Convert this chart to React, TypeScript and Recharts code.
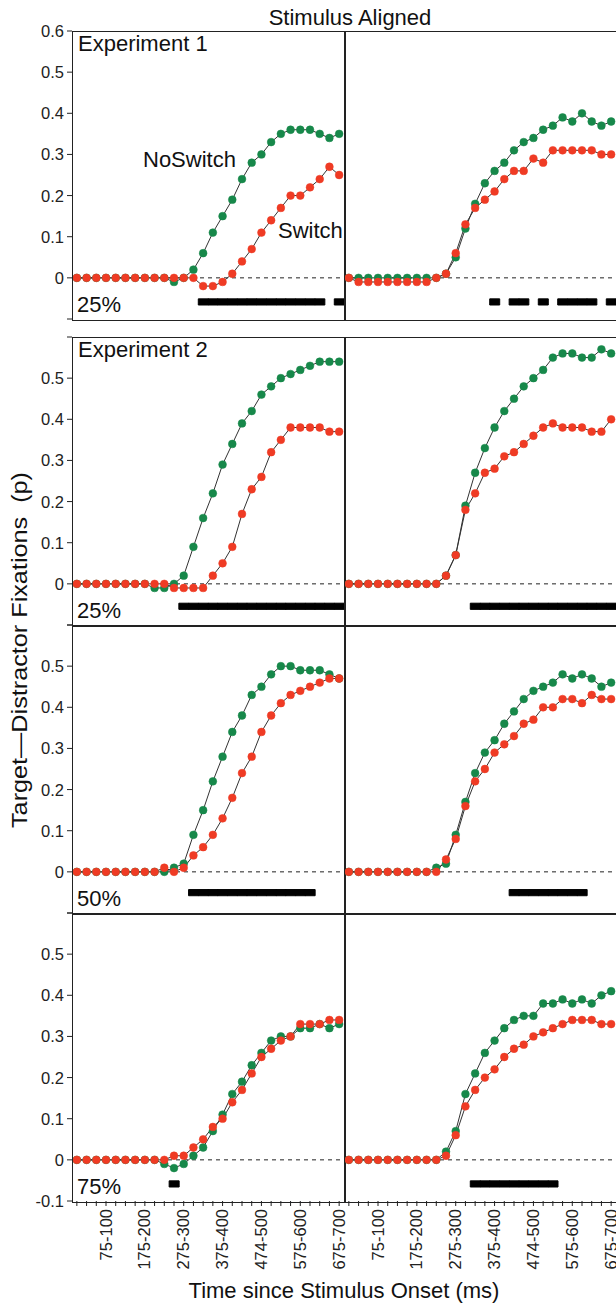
import { ComposedChart, Line, Bar, XAxis, YAxis, ReferenceLine } from "recharts";

// 25 ms time bins since stimulus onset
const BINS = [
  "0-25", "25-50", "50-75", "75-100", "100-125", "125-150", "150-175", "175-200",
  "200-225", "225-250", "250-275", "275-300", "300-325", "325-350", "350-375", "375-400",
  "400-425", "425-450", "450-475", "474-500", "500-525", "525-550", "550-575", "575-600",
  "600-625", "625-650", "650-675", "675-700",
];
const X_TICK_LABELS = ["75-100", "175-200", "275-300", "375-400", "474-500", "575-600", "675-700"];
const Y_TICKS = [-0.1, 0, 0.1, 0.2, 0.3, 0.4, 0.5, 0.6];
const Y_LABELS_TOP = [0, 0.1, 0.2, 0.3, 0.4, 0.5, 0.6];
const Y_LABELS_MID = [0, 0.1, 0.2, 0.3, 0.4, 0.5];
const Y_LABELS_BOTTOM = [-0.1, 0, 0.1, 0.2, 0.3, 0.4, 0.5];

// Experiment 1, 25%
const E1_25_L_NOSWITCH = [0, 0, 0, 0, 0, 0, 0, 0, 0, 0, -0.01, 0, 0.02, 0.06, 0.11, 0.15, 0.19, 0.24, 0.28, 0.3, 0.33, 0.35, 0.36, 0.36, 0.36, 0.35, 0.34, 0.35];
const E1_25_L_SWITCH = [0, 0, 0, 0, 0, 0, 0, 0, 0, 0, 0, 0, 0, -0.02, -0.02, -0.01, 0.01, 0.04, 0.07, 0.11, 0.14, 0.17, 0.2, 0.2, 0.22, 0.24, 0.27, 0.25];
const E1_25_R_NOSWITCH = [0, 0, 0, 0, 0, 0, 0, 0, 0, 0, 0.01, 0.05, 0.12, 0.18, 0.23, 0.26, 0.28, 0.31, 0.33, 0.34, 0.36, 0.37, 0.39, 0.38, 0.4, 0.38, 0.37, 0.38];
const E1_25_R_SWITCH = [0, -0.01, -0.01, -0.01, -0.01, -0.01, -0.01, -0.01, -0.01, 0, 0.01, 0.06, 0.13, 0.17, 0.19, 0.21, 0.24, 0.26, 0.26, 0.29, 0.28, 0.31, 0.31, 0.31, 0.31, 0.31, 0.3, 0.3];
// Experiment 2, 25%
const E2_25_L_NOSWITCH = [0, 0, 0, 0, 0, 0, 0, 0, -0.01, -0.01, 0, 0.02, 0.09, 0.16, 0.22, 0.29, 0.34, 0.39, 0.42, 0.46, 0.48, 0.5, 0.51, 0.52, 0.53, 0.54, 0.54, 0.54];
const E2_25_L_SWITCH = [0, 0, 0, 0, 0, 0, 0, 0, 0, 0, -0.01, -0.01, -0.01, -0.01, 0.02, 0.05, 0.09, 0.17, 0.23, 0.26, 0.32, 0.35, 0.38, 0.38, 0.38, 0.38, 0.37, 0.37];
const E2_25_R_NOSWITCH = [0, 0, 0, 0, 0, 0, 0, 0, 0, 0, 0.02, 0.07, 0.19, 0.27, 0.33, 0.38, 0.42, 0.45, 0.48, 0.5, 0.52, 0.55, 0.56, 0.56, 0.55, 0.55, 0.57, 0.56];
const E2_25_R_SWITCH = [0, 0, 0, 0, 0, 0, 0, 0, 0, 0, 0.02, 0.07, 0.18, 0.22, 0.27, 0.28, 0.31, 0.32, 0.34, 0.36, 0.38, 0.39, 0.38, 0.38, 0.38, 0.37, 0.37, 0.4];
// Experiment 2, 50%
const E2_50_L_NOSWITCH = [0, 0, 0, 0, 0, 0, 0, 0, 0, 0, 0.01, 0.02, 0.09, 0.15, 0.22, 0.28, 0.34, 0.38, 0.43, 0.45, 0.48, 0.5, 0.5, 0.49, 0.49, 0.49, 0.48, 0.47];
const E2_50_L_SWITCH = [0, 0, 0, 0, 0, 0, 0, 0, 0, 0.01, 0, 0.01, 0.04, 0.06, 0.09, 0.13, 0.18, 0.24, 0.28, 0.34, 0.38, 0.41, 0.43, 0.44, 0.45, 0.46, 0.47, 0.47];
const E2_50_R_NOSWITCH = [0, 0, 0, 0, 0, 0, 0, 0, 0, 0.01, 0.02, 0.09, 0.17, 0.24, 0.29, 0.32, 0.36, 0.39, 0.42, 0.44, 0.45, 0.46, 0.48, 0.47, 0.48, 0.47, 0.45, 0.46];
const E2_50_R_SWITCH = [0, 0, 0, 0, 0, 0, 0, 0, 0, 0, 0.03, 0.08, 0.16, 0.22, 0.25, 0.29, 0.31, 0.33, 0.36, 0.37, 0.4, 0.4, 0.42, 0.42, 0.41, 0.43, 0.42, 0.42];
// Experiment 2, 75%
const E2_75_L_NOSWITCH = [0, 0, 0, 0, 0, 0, 0, 0, 0, -0.01, -0.02, -0.01, 0.01, 0.03, 0.07, 0.11, 0.16, 0.19, 0.23, 0.26, 0.29, 0.3, 0.3, 0.32, 0.32, 0.33, 0.32, 0.33];
const E2_75_L_SWITCH = [0, 0, 0, 0, 0, 0, 0, 0, 0, 0, 0.01, 0.01, 0.03, 0.05, 0.08, 0.1, 0.14, 0.17, 0.21, 0.25, 0.27, 0.29, 0.3, 0.33, 0.33, 0.33, 0.34, 0.34];
const E2_75_R_NOSWITCH = [0, 0, 0, 0, 0, 0, 0, 0, 0, 0, 0.02, 0.07, 0.16, 0.21, 0.26, 0.29, 0.32, 0.34, 0.35, 0.35, 0.38, 0.38, 0.39, 0.38, 0.39, 0.38, 0.4, 0.41];
const E2_75_R_SWITCH = [0, 0, 0, 0, 0, 0, 0, 0, 0, 0, 0.01, 0.06, 0.13, 0.17, 0.2, 0.22, 0.25, 0.27, 0.28, 0.3, 0.31, 0.32, 0.33, 0.34, 0.34, 0.34, 0.33, 0.33];

// significant bins (first, last index), drawn as black bars
const SIG_E1_25_L = [[13, 25], [27, 27]];
const SIG_E1_25_R = [[15, 15], [17, 18], [20, 20], [22, 25], [27, 27]];
const SIG_E2_25_L = [[11, 27]];
const SIG_E2_25_R = [[13, 27]];
const SIG_E2_50_L = [[12, 24]];
const SIG_E2_50_R = [[17, 24]];
const SIG_E2_75_L = [[10, 10]];
const SIG_E2_75_R = [[13, 21]];
const SIG_BAND = [[-0.066, -0.051], [-0.062, -0.047], [-0.058, -0.043], [-0.066, -0.051]];

const GREEN = "#17884a";
const RED = "#ef3b24";
const INK = "#222";
const FONT = "'Liberation Sans', Arial, Helvetica, sans-serif";

const ROW_TOP = [31, 337, 625, 913];
const PLOT_H = 288;
const ROW_Y_LABELS = [Y_LABELS_TOP, Y_LABELS_MID, Y_LABELS_MID, Y_LABELS_BOTTOM];
const ROW_PERCENT = ["25%", "25%", "50%", "75%"];
const ROW_EXPERIMENT = ["Experiment 1", "Experiment 2", "", ""];

const PANELS = [
  { row: 0, col: 0, ns: E1_25_L_NOSWITCH, sw: E1_25_L_SWITCH, sig: SIG_E1_25_L },
  { row: 0, col: 1, ns: E1_25_R_NOSWITCH, sw: E1_25_R_SWITCH, sig: SIG_E1_25_R },
  { row: 1, col: 0, ns: E2_25_L_NOSWITCH, sw: E2_25_L_SWITCH, sig: SIG_E2_25_L },
  { row: 1, col: 1, ns: E2_25_R_NOSWITCH, sw: E2_25_R_SWITCH, sig: SIG_E2_25_R },
  { row: 2, col: 0, ns: E2_50_L_NOSWITCH, sw: E2_50_L_SWITCH, sig: SIG_E2_50_L },
  { row: 2, col: 1, ns: E2_50_R_NOSWITCH, sw: E2_50_R_SWITCH, sig: SIG_E2_50_R },
  { row: 3, col: 0, ns: E2_75_L_NOSWITCH, sw: E2_75_L_SWITCH, sig: SIG_E2_75_L },
  { row: 3, col: 1, ns: E2_75_R_NOSWITCH, sw: E2_75_R_SWITCH, sig: SIG_E2_75_R },
];

const fmt = (v: number) => (v === 0 ? "0" : String(v));

function Panel({ row, col, ns, sw, sig }: any) {
  const isBottom = row === 3;
  // left charts get a little extra room on the right so rotated tick text isn't clipped
  const left = col === 0 ? 0 : 344;
  const width = col === 0 ? 352 : 272;
  const rightPad = col === 0 ? 8 : 0;
  const top = ROW_TOP[row];
  const yLabels = ROW_Y_LABELS[row];
  const data = BINS.map((bin, i) => ({
    bin,
    ns: ns[i],
    sw: sw[i],
    sig: sig.some(([a, b]: number[]) => i >= a && i <= b) ? SIG_BAND[row] : null,
  }));

  const yTick = (p: any) =>
    yLabels.includes(p.payload.value) ? (
      <text x={p.x} y={p.y} dy="0.36em" textAnchor="end" fontSize={16.5} fontFamily={FONT} fill={INK}>
        {fmt(p.payload.value)}
      </text>
    ) : (
      <g />
    );

  const xTick = (p: any) =>
    X_TICK_LABELS.includes(p.payload.value) ? (
      <g transform={`translate(${p.x},${p.y})`}>
        <text transform="rotate(-90)" textAnchor="end" dy="0.34em" fontSize={16.5} fontFamily={FONT} fill={INK}>
          {p.payload.value}
        </text>
      </g>
    ) : (
      <g />
    );

  return (
    <div style={{ position: "absolute", left, top: top - 12 }}>
      <ComposedChart
        width={width}
        height={isBottom ? 12 + PLOT_H + 80 : 12 + PLOT_H + 12}
        data={data}
        margin={{ top: 12, right: rightPad, bottom: isBottom ? 0 : 12, left: 0 }}
        barCategoryGap={0}
        barGap={0}
      >
        <XAxis
          dataKey="bin"
          scale="band"
          hide={!isBottom}
          height={80}
          interval={0}
          tickSize={5}
          tickMargin={3}
          axisLine={false}
          tickLine={{ stroke: INK }}
          tick={xTick}
        />
        <YAxis
          type="number"
          domain={[-0.1, 0.6]}
          ticks={Y_TICKS}
          allowDataOverflow
          interval={0}
          hide={col === 1}
          width={72}
          tickSize={5}
          tickMargin={3}
          axisLine={false}
          tickLine={{ stroke: INK }}
          tick={yTick}
        />
        <Bar dataKey="sig" fill="#000" stroke="#000" strokeWidth={1} isAnimationActive={false} />
        <ReferenceLine y={0} stroke={INK} strokeDasharray="4 4" strokeWidth={1} />
        <Line dataKey="ns" stroke="#333" strokeWidth={1} dot={false} activeDot={false} isAnimationActive={false} />
        <Line dataKey="sw" stroke="#333" strokeWidth={1} dot={false} activeDot={false} isAnimationActive={false} />
        <Line
          dataKey="ns"
          stroke="none"
          dot={{ r: 3.9, fill: GREEN, stroke: GREEN, strokeWidth: 0.5 }}
          activeDot={false}
          isAnimationActive={false}
        />
        <Line
          dataKey="sw"
          stroke="none"
          dot={{ r: 3.9, fill: RED, stroke: RED, strokeWidth: 0.5 }}
          activeDot={false}
          isAnimationActive={false}
        />
      </ComposedChart>
      <div
        style={{
          position: "absolute",
          left: col === 0 ? 72 : 0,
          top: 12,
          width: 272,
          height: PLOT_H,
          border: `1px solid ${INK}`,
          pointerEvents: "none",
        }}
      />
    </div>
  );
}

export default function App() {
  return (
    <div style={{ position: "absolute", left: 0, top: 0, width: 616, height: 1304, background: "#fff", overflow: "hidden" }}>
      {PANELS.map((p) => (
        <Panel key={`${p.row}-${p.col}`} {...p} />
      ))}
      <svg width={616} height={1304} style={{ position: "absolute", left: 0, top: 0, pointerEvents: "none" }} fontFamily={FONT} fill="#111">
        <text x={350} y={25} textAnchor="middle" fontSize={22}>Stimulus Aligned</text>
        <text x={344} y={1298} textAnchor="middle" fontSize={22}>Time since Stimulus Onset (ms)</text>
        <text
          transform="translate(27,650) rotate(-90)"
          textAnchor="middle"
          fontSize={22.5}
          textLength={356}
          lengthAdjust="spacingAndGlyphs"
          style={{ whiteSpace: "pre" }}
        >
          {"Target\u2014Distractor Fixations  (p)"}
        </text>
        {ROW_EXPERIMENT.map((t, r) =>
          t ? (
            <text key={`e${r}`} x={78} y={ROW_TOP[r] + 20} fontSize={22}>{t}</text>
          ) : null
        )}
        {ROW_PERCENT.map((t, r) => (
          <text key={`p${r}`} x={77} y={ROW_TOP[r] + PLOT_H - 7} fontSize={22}>{t}</text>
        ))}
        <text x={143} y={167} fontSize={22}>NoSwitch</text>
        <text x={278} y={238} fontSize={22}>Switch</text>
      </svg>
    </div>
  );
}
